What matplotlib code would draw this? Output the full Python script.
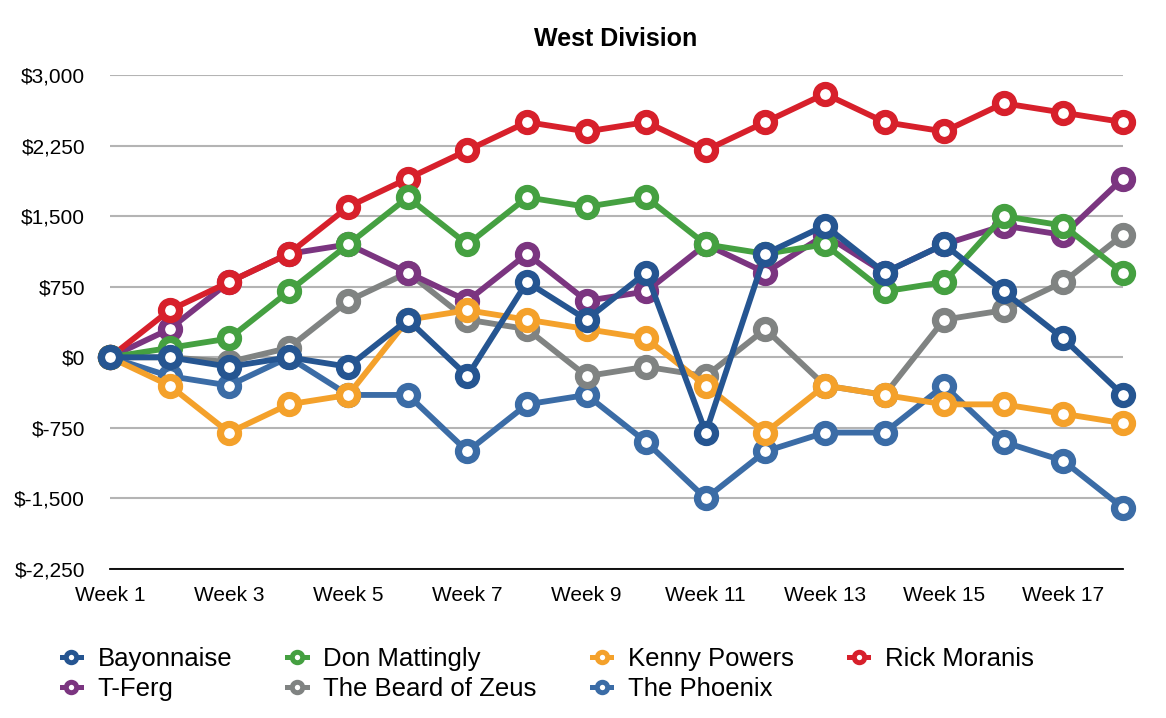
import matplotlib
matplotlib.use("Agg")
import matplotlib.pyplot as plt
from matplotlib.lines import Line2D
from matplotlib.ticker import FuncFormatter

plt.rcParams["font.family"] = ["Liberation Sans", "DejaVu Sans"]

weeks = list(range(1, 19))
week_labels = [f"Week {w}" for w in range(1, 19, 2)]

bayonnaise = [0, 0, -100, 0, -100, 400, -200, 800, 400, 900, -800, 1100, 1400, 900, 1200, 700, 200, -400]
don_mattingly = [0, 100, 200, 700, 1200, 1700, 1200, 1700, 1600, 1700, 1200, 1100, 1200, 700, 800, 1500, 1400, 900]
kenny_powers = [0, -300, -800, -500, -400, 400, 500, 400, 300, 200, -300, -800, -300, -400, -500, -500, -600, -700]
rick_moranis = [0, 500, 800, 1100, 1600, 1900, 2200, 2500, 2400, 2500, 2200, 2500, 2800, 2500, 2400, 2700, 2600, 2500]
t_ferg = [0, 300, 800, 1100, 1200, 900, 600, 1100, 600, 700, 1200, 900, 1300, 900, 1200, 1400, 1300, 1900]
beard_of_zeus = [0, 0, -50, 100, 600, 900, 400, 300, -200, -100, -200, 300, -300, -400, 400, 500, 800, 1300]
the_phoenix = [0, -200, -300, 0, -400, -400, -1000, -500, -400, -900, -1500, -1000, -800, -800, -300, -900, -1100, -1600]

# legend order, first one drawn on top
series = [
    ("Bayonnaise", bayonnaise, "#255591"),
    ("Don Mattingly", don_mattingly, "#45a041"),
    ("Kenny Powers", kenny_powers, "#f4a12b"),
    ("Rick Moranis", rick_moranis, "#d7202b"),
    ("T-Ferg", t_ferg, "#7b3580"),
    ("The Beard of Zeus", beard_of_zeus, "#808382"),
    ("The Phoenix", the_phoenix, "#3b6ca6"),
]

fig = plt.figure(figsize=(11.66, 7.18), dpi=100)
ax = fig.add_axes([0.0943, 0.2075, 0.8687, 0.688])

handles = {}
for i, (nome, valores, cor) in enumerate(series):
    ax.plot(
        weeks, valores, color=cor, lw=4.2, marker="o", ms=13,
        mfc="white", mec=cor, mew=5.2, clip_on=False,
        zorder=10 - i,
    )
    # marcador menor para a legenda
    handles[nome] = Line2D([], [], color=cor, lw=3.6, marker="o", ms=7.5,
                           mfc="white", mec=cor, mew=3.6)

ax.set_xlim(1, 18)
ax.set_ylim(-2250, 3000)
ax.set_yticks(range(-2250, 3001, 750))
ax.yaxis.set_major_formatter(FuncFormatter(lambda v, p: f"${int(v):,}"))
ax.set_xticks(list(range(1, 19, 2)))
ax.set_xticklabels(week_labels)
ax.tick_params(axis="both", length=0, labelsize=15)
ax.tick_params(axis="y", pad=18)
ax.tick_params(axis="x", pad=12)
ax.grid(axis="y", color="#b4b4b4", lw=1.5)
ax.set_axisbelow(True)
for lado in ["top", "right", "left"]:
    ax.spines[lado].set_visible(False)
ax.spines["bottom"].set_color("black")
ax.spines["bottom"].set_linewidth(1.3)
ax.spines["bottom"].set_zorder(20)

fig.text(0.528, 0.945, "West Division", ha="center", va="center",
         fontsize=18, fontweight="bold")

ordem = ["Bayonnaise", "T-Ferg", "Don Mattingly", "The Beard of Zeus",
         "Kenny Powers", "The Phoenix", "Rick Moranis"]
fig.legend(
    [handles[n] for n in ordem], ordem, ncol=4, loc="upper left",
    bbox_to_anchor=(0.033, 0.131), frameon=False, fontsize=18.5,
    handlelength=0.75, handletextpad=0.65, columnspacing=2.15,
    labelspacing=0.22,
)

fig.savefig("out.png", dpi=100)
